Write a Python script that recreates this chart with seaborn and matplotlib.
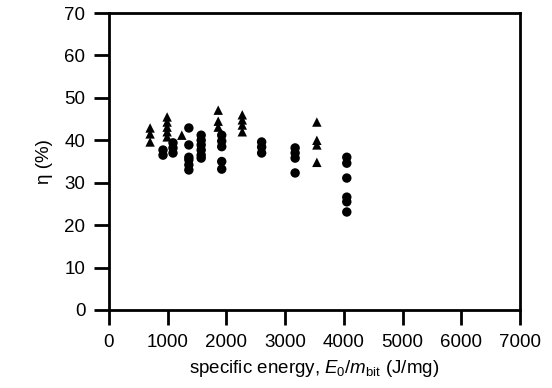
import numpy as np
import pandas as pd
import matplotlib
matplotlib.use("Agg")
import matplotlib.pyplot as plt
import seaborn as sns

# triangles (upper series)
tri_energy = [700, 700, 700,
              990, 990, 990, 990, 990,
              1240,
              1860, 1860, 1860,
              2270, 2270, 2270, 2270,
              3540, 3540, 3540, 3540]
tri_eta = [42.9, 41.5, 39.6,
           45.5, 44.3, 43.1, 42.0, 40.8,
           41.2,
           47.1, 44.5, 43.1,
           46.0, 44.8, 43.6, 42.0,
           44.3, 40.0, 38.9, 34.8]

# circles (lower series)
circ_energy = [920, 920,
               1090, 1090, 1090,
               1360, 1360, 1360, 1360, 1360, 1360,
               1570, 1570, 1570, 1570, 1570, 1570,
               1920, 1920, 1920, 1920, 1920,
               2600, 2600, 2600,
               3170, 3170, 3170, 3170,
               4050, 4050, 4050, 4050, 4050, 4050]
circ_eta = [37.7, 36.5,
            39.4, 38.2, 37.0,
            42.9, 38.9, 36.0, 35.4, 34.2, 33.0,
            41.2, 40.0, 38.9, 37.7, 36.5, 35.8,
            41.2, 39.8, 38.5, 35.0, 33.2,
            39.6, 38.4, 37.0,
            38.2, 37.0, 35.8, 32.3,
            36.0, 34.6, 31.1, 26.6, 25.5, 23.1]

xticks = [0, 1000, 2000, 3000, 4000, 5000, 6000, 7000]
yticks = [0, 10, 20, 30, 40, 50, 60, 70]

df = pd.DataFrame({
    "energy": tri_energy + circ_energy,
    "eta": tri_eta + circ_eta,
    "kind": ["tri"] * len(tri_energy) + ["circ"] * len(circ_energy),
})

sns.set_style("ticks")
plt.rcParams["font.family"] = ["Liberation Sans", "DejaVu Sans"]
plt.rcParams["mathtext.fontset"] = "custom"
plt.rcParams["mathtext.rm"] = "Liberation Sans"
plt.rcParams["mathtext.it"] = "Liberation Sans:italic"
plt.rcParams["text.color"] = "black"
plt.rcParams["axes.labelcolor"] = "black"

fig = plt.figure(figsize=(5.52, 3.88), dpi=100)
ax = fig.add_axes([109 / 552, 1 - 310 / 388, 411 / 552, 297 / 388])

sns.scatterplot(data=df, x="energy", y="eta", style="kind",
                markers={"tri": "^", "circ": "o"}, color="black",
                s=46, linewidth=0, legend=False, ax=ax)

ax.set_xlim(0, 7000)
ax.set_ylim(0, 70)
ax.set_xticks(xticks)
ax.set_yticks(yticks)
for sp in ax.spines.values():
    sp.set_linewidth(2)
    sp.set_color("black")
ax.tick_params(direction="out", length=11, width=2, labelsize=13.5, pad=6,
               color="black", labelcolor="black")
ax.set_xlabel(r"specific energy, $\mathit{E_0}$/$\mathit{m}_{\mathrm{bit}}$ (J/mg)",
              fontsize=13.5, labelpad=5)
ax.set_ylabel("η (%)", fontsize=13.5, labelpad=8)

fig.savefig("out.png", dpi=100)
